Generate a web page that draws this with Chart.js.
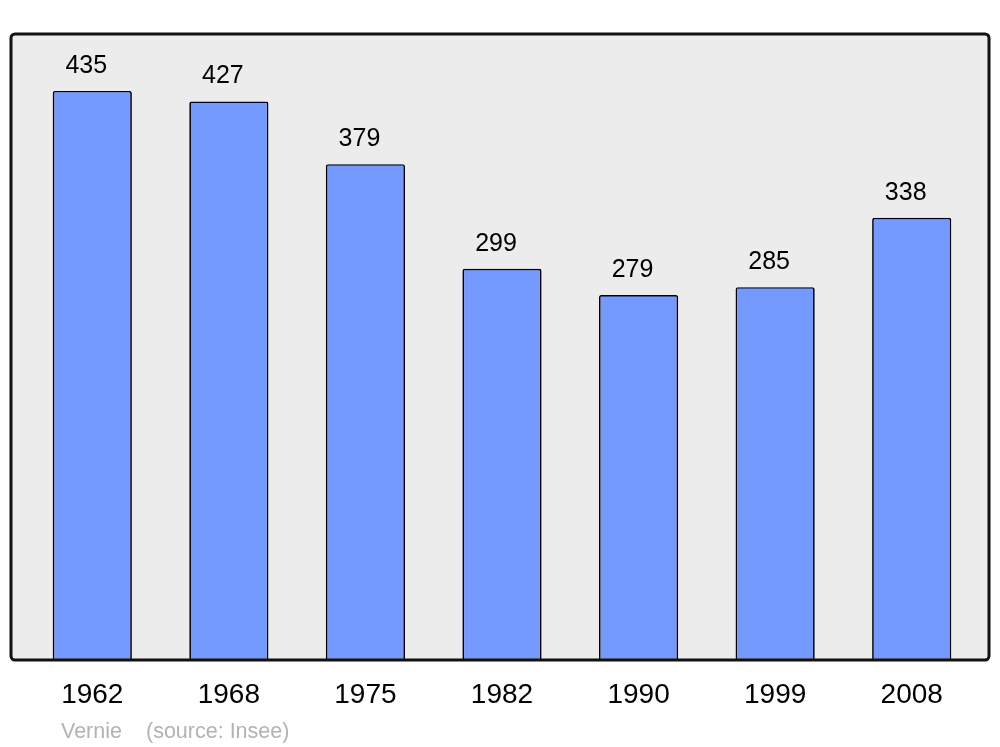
<!DOCTYPE html>
<html>
<head>
<meta charset="utf-8">
<script src="https://cdn.jsdelivr.net/npm/chart.js@4"></script>
<style>
  html, body { margin: 0; padding: 0; background: #fff; }
  #wrap { width: 1000px; height: 747px; }
</style>
</head>
<body>
<div id="wrap"><canvas id="myChart"></canvas></div>
<script>
var years = ['1962', '1968', '1975', '1982', '1990', '1999', '2008'];
var population = [435, 427, 379, 299, 279, 285, 338];
var town = 'Vernie';
var source = '(source: Insee)';

// grey frame behind the bars, a bit wider than the bar range
var framePlugin = {
  id: 'frame',
  beforeDatasetsDraw: function (chart) {
    var ctx = chart.ctx, a = chart.chartArea;
    var x0 = a.left - 13, x1 = a.right + 9, y0 = a.top, y1 = a.bottom;
    ctx.save();
    ctx.beginPath();
    ctx.roundRect(x0, y0, x1 - x0, y1 - y0, 4);
    ctx.fillStyle = '#ececec';
    ctx.fill();
    ctx.restore();
  },
  afterDatasetsDraw: function (chart) {
    var ctx = chart.ctx, a = chart.chartArea;
    var x0 = a.left - 13, x1 = a.right + 9, y0 = a.top, y1 = a.bottom;
    ctx.save();
    ctx.beginPath();
    ctx.roundRect(x0, y0, x1 - x0, y1 - y0, 4);
    ctx.lineWidth = 3;
    ctx.strokeStyle = '#111';
    ctx.stroke();

    // values above bars
    ctx.font = '25px "Liberation Sans", Arial, sans-serif';
    ctx.fillStyle = '#000';
    ctx.textAlign = 'center';
    ctx.textBaseline = 'alphabetic';
    var meta = chart.getDatasetMeta(0);
    meta.data.forEach(function (bar, i) {
      ctx.fillText(String(population[i]), bar.x - 6, bar.y - 18);
    });

    // footer
    ctx.font = '21.5px "Liberation Sans", Arial, sans-serif';
    ctx.fillStyle = '#b3b3b3';
    ctx.textAlign = 'left';
    ctx.fillText(town, 61, 738);
    ctx.fillText(source, 146, 738);
    ctx.restore();
  }
};

new Chart('myChart', {
  type: 'bar',
  data: {
    labels: years,
    datasets: [{
      data: population,
      backgroundColor: '#7499ff',
      borderColor: '#000',
      borderWidth: 1.7,
      borderRadius: 2,
      borderSkipped: 'bottom',
      categoryPercentage: 1,
      barPercentage: 0.58
    }]
  },
  options: {
    responsive: true,
    maintainAspectRatio: false,
    animation: false,
    events: [],
    layout: { padding: { left: 24, right: 20, top: 34, bottom: 0 } },
    plugins: { legend: { display: false }, tooltip: { enabled: false } },
    scales: {
      x: {
        grid: { display: false, drawTicks: false },
        border: { display: false },
        ticks: {
          color: '#000',
          padding: 18,
          font: { size: 28, family: '"Liberation Sans", Arial, sans-serif' }
        },
        afterFit: function (scale) { scale.height = 87; }
      },
      y: {
        display: false,
        min: 0,
        max: 478.5
      }
    }
  },
  plugins: [framePlugin]
});
</script>
</body>
</html>
